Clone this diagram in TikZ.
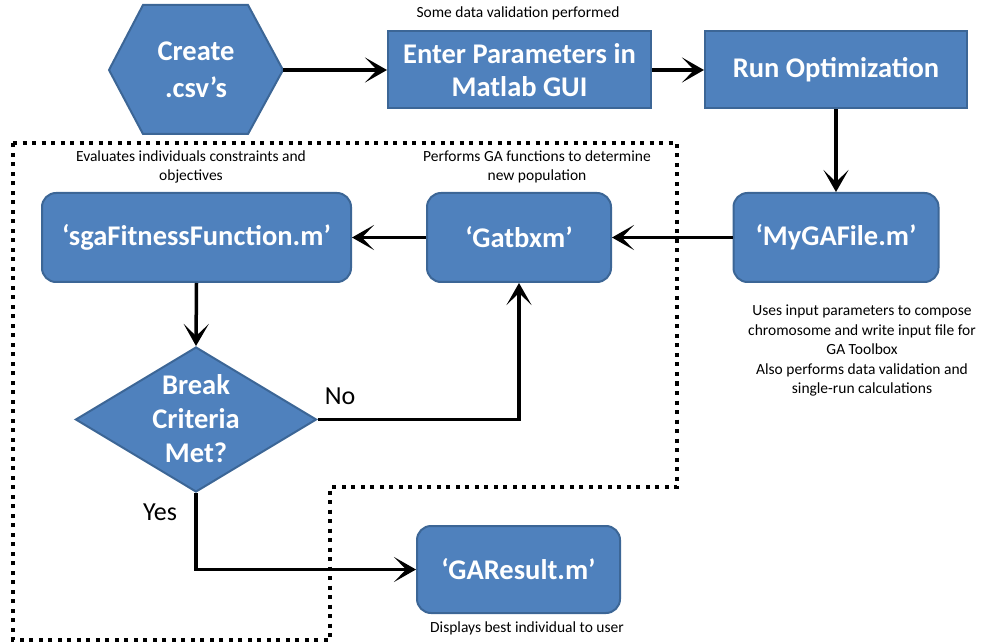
\documentclass[tikz,border=0pt]{standalone}
\usepackage{fontspec}
\setmainfont{Carlito}
\usetikzlibrary{shapes.geometric,arrows.meta}
\definecolor{boxfill}{HTML}{4F81BD}
\definecolor{boxedge}{HTML}{3C6696}
\begin{document}
\begin{tikzpicture}[x=1pt,y=-1pt,
  shapefill/.style={draw=boxedge, line width=2pt, fill=boxfill},
  boxtext/.style={text=white, font=\fontsize{28.5}{33}\selectfont\bfseries, align=center, inner sep=0pt},
  sqbox/.style={shapefill, boxtext},
  rbox/.style={shapefill, boxtext, rounded corners=14pt},
  note/.style={font=\fontsize{15.5}{19.5}\selectfont, align=center, inner sep=0pt},
  lbl/.style={font=\fontsize{26}{30}\selectfont, inner sep=0pt},
  conn/.style={line width=3.5pt, -{Stealth[length=22pt,width=25pt,inset=12pt]}},
  region/.style={line width=4pt, dash pattern=on 4pt off 5.5pt}
]
\useasboundingbox (0,0) rectangle (985,644);

% hexagon
\draw[shapefill] (109,70) -- (143,5) -- (248,5) -- (283,70) -- (248,134) -- (143,134) -- cycle;
\node[boxtext, minimum width=174pt, minimum height=129pt, font=\fontsize{28.5}{37}\selectfont\bfseries] (hex) at (196,70) {Create\\.csv’s};

\node[sqbox, minimum width=263pt, minimum height=77pt] (enter) at (519.5,70) {Enter Parameters in\\Matlab GUI};
\node[sqbox, minimum width=262pt, minimum height=77pt] (run) at (836,70) {Run Optimization};

\node[rbox, minimum width=205pt, minimum height=89pt] (myga) at (836,237.5) {‘MyGAFile.m’};
\node[rbox, minimum width=184pt, minimum height=89pt] (gat) at (519,237.5) {‘Gatbxm’};
\node[rbox, minimum width=309pt, minimum height=89pt] (sga) at (196.5,237.5) {‘sgaFitnessFunction.m’};

\node[shapefill, diamond, inner sep=0pt, minimum width=241pt, minimum height=145pt] (dia) at (196,419.5) {};
\node[boxtext, font=\fontsize{28.5}{34}\selectfont\bfseries] (diatext) at (196,419) {Break\\Criteria\\Met?};

\node[rbox, minimum width=203pt, minimum height=87pt] (res) at (518.5,569.5) {‘GAResult.m’};

% notes
\node[note] (n1) at (518,13) {Some data validation performed};
\node[note] (n2) at (191,167) {Evaluates individuals constraints and\\objectives};
\node[note] (n3) at (537,167) {Performs GA functions to determine\\new population};
\node[note] (n4) at (862,350.5) {Uses input parameters to compose\\chromosome and write input file for\\GA Toolbox\\Also performs data validation and\\single-run calculations};
\node[note] (n5) at (527,628) {Displays best individual to user};
\node[lbl] (no) at (340,396) {No};
\node[lbl] (yes) at (160,512) {Yes};

% connectors
\draw[conn] (hex.east) -- (enter.west);
\draw[conn] (enter.east) -- (run.west);
\draw[conn] (run.south) -- (myga.north);
\draw[conn] (myga.west) -- (gat.east);
\draw[conn] (gat.west) -- (sga.east);
\draw[conn] (sga.south) -- (dia.north);
\draw[conn] (dia.east) -| (gat.south);
\draw[conn] (dia.south) |- (res.west);

% dotted region
\draw[region] (13,143) -- (677,143) -- (677,487) -- (330,487) -- (330,640) -- (13,640) -- cycle;
\end{tikzpicture}
\end{document}
